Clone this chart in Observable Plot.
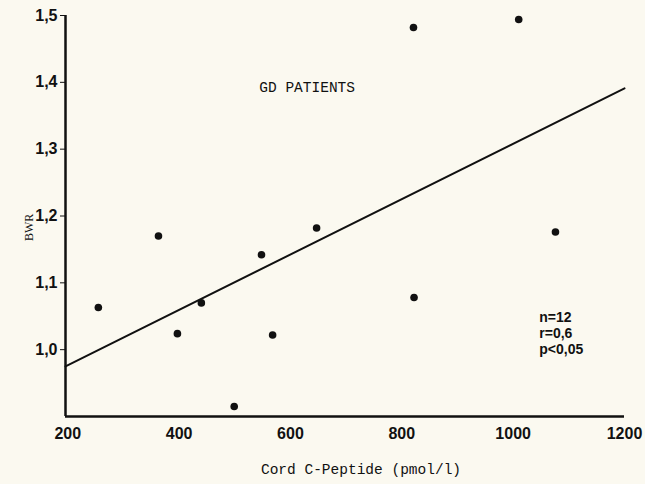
<!DOCTYPE html>
<html>
<head>
<meta charset="utf-8">
<script src="https://cdn.jsdelivr.net/npm/d3@7"></script>
<script src="https://cdn.jsdelivr.net/npm/@observablehq/plot@0.6"></script>
<style>
  html, body { margin: 0; padding: 0; background: #fbf9f0; }
  #chart svg { display: block; }
</style>
</head>
<body>
<div id="chart"></div>
<script>
// Data
const cPeptide = [255, 363, 397, 440, 499, 548, 568, 647, 821, 822, 1010, 1076];
const bwr      = [1.063, 1.170, 1.024, 1.070, 0.915, 1.142, 1.022, 1.182, 1.482, 1.078, 1.494, 1.176];

// Regression line endpoints (as drawn)
const lineX = [196, 1200];
const lineY = [0.975, 1.391];

// Axes
const xDomain = [196, 1200];
const yDomain = [0.9, 1.5];
const xTicks = [200, 400, 600, 800, 1000, 1200];
const yTicks = [1.0, 1.1, 1.2, 1.3, 1.4, 1.5];

// Text
const xLabel = "Cord C-Peptide (pmol/l)";
const yLabel = "BWR";
const title = "GD PATIENTS";
const titlePos = [630, 1.392];
const stats = ["n=12", "r=0,6", "p<0,05"];
const statsX = [1047, 1047, 1047];
const statsY = [1.048, 1.024, 1.0];

const points = cPeptide.map((x, i) => ({x, y: bwr[i]}));
const line = lineX.map((x, i) => ({x, y: lineY[i]}));
const statRows = stats.map((t, i) => ({t, x: statsX[i], y: statsY[i]}));

const comma = d => d3.format(".1f")(d).replace(".", ",");

const chart = Plot.plot({
  width: 645,
  height: 484,
  marginLeft: 65,
  marginRight: 21,
  marginTop: 15,
  marginBottom: 68,
  style: {
    background: "#fbf9f0",
    color: "#111",
    fontFamily: "Liberation Sans, Arial, sans-serif",
    fontWeight: "bold",
    fontSize: "16px"
  },
  x: {domain: xDomain, ticks: xTicks, tickSize: 0, tickPadding: 11, label: null, tickFormat: d => String(d)},
  y: {domain: yDomain, ticks: yTicks, tickSize: 5, tickPadding: 3, label: null, tickFormat: comma},
  marks: [
    Plot.ruleX([xDomain[0]], {y1: yDomain[0], y2: yDomain[1], stroke: "#111", strokeWidth: 2.5}),
    Plot.ruleY([yDomain[0]], {x1: xDomain[0], x2: xDomain[1], stroke: "#111", strokeWidth: 2.5}),
    Plot.line(line, {x: "x", y: "y", stroke: "#111", strokeWidth: 2}),
    Plot.dot(points, {x: "x", y: "y", r: 3.8, fill: "#111", stroke: "none"}),
    Plot.text([title], {x: titlePos[0], y: titlePos[1], text: d => d, fontFamily: "Liberation Mono, Courier New, monospace", fontWeight: "normal", fontSize: 14.5}),
    Plot.text(statRows, {x: "x", y: "y", text: "t", textAnchor: "start", fontFamily: "Liberation Sans, Arial, sans-serif", fontWeight: "bold", fontSize: 14}),
    Plot.text([xLabel], {frameAnchor: "bottom", dx: 16, dy: 57, text: d => d, fontFamily: "Liberation Mono, Courier New, monospace", fontWeight: "normal", fontSize: 14.5}),
    Plot.text([yLabel], {frameAnchor: "left", dx: -36, dy: 25, rotate: -90, text: d => d, fontFamily: "Liberation Serif, Times New Roman, serif", fontWeight: "normal", fontSize: 12})
  ]
});

document.getElementById("chart").appendChild(chart);
</script>
</body>
</html>
